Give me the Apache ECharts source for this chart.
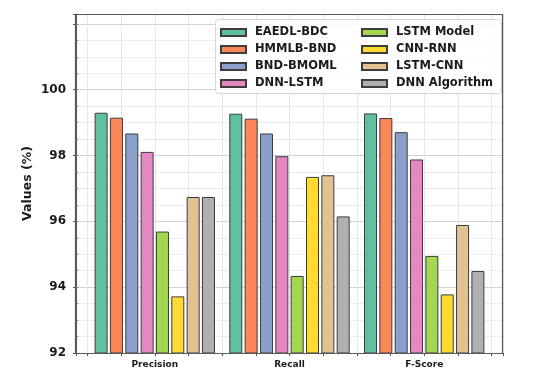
<!DOCTYPE html>
<html>
<head>
<meta charset="utf-8">
<script src="https://cdn.jsdelivr.net/npm/echarts@6/dist/echarts.min.js"></script>
<style>
  html, body { margin: 0; padding: 0; background: #fff; }
  #myChart { width: 546px; height: 383px; }
</style>
</head>
<body>
<div id="myChart"></div>
<script>
// data
const categories = ['Precision', 'Recall', 'F-Score'];
const methods = ['EAEDL-BDC', 'HMMLB-BND', 'BND-BMOML', 'DNN-LSTM', 'LSTM Model', 'CNN-RNN', 'LSTM-CNN', 'DNN Algorithm'];
const eaedlBdc = [99.30, 99.27, 99.28];
const hmmlbBnd = [99.15, 99.12, 99.14];
const bndBmoml = [98.67, 98.67, 98.71];
const dnnLstm = [98.11, 97.98, 97.88];
const lstmModel = [95.69, 94.34, 94.95];
const cnnRnn = [93.72, 97.35, 93.78];
const lstmCnn = [96.74, 97.40, 95.89];
const dnnAlgorithm = [96.74, 96.15, 94.49];
const yTicks = [92, 94, 96, 98, 100];

const seriesValues = [eaedlBdc, hmmlbBnd, bndBmoml, dnnLstm, lstmModel, cnnRnn, lstmCnn, dnnAlgorithm];
const colors = ['#5fc09f', '#fb8659', '#8a9fcc', '#e487c2', '#a4d651', '#fdd931', '#e2c192', '#b0b0b0'];
const font = 'DejaVu Sans';

const myChart = echarts.init(document.getElementById('myChart'));

// bars sit on a numeric x axis so the plot margins match the original
let series = methods.map((name, i) => ({
    name,
    type: 'bar',
    barWidth: 13,
    barGap: '18%',
    yAxisIndex: 1,
    data: seriesValues[i].map((v, j) => [j, v]),
    itemStyle: {color: colors[i], borderColor: '#3d3d3d', borderWidth: 1},
    emphasis: {disabled: true}
}));

const legendText = {fontSize: 11.5, fontWeight: 'bold', color: '#1a1a1a', fontFamily: font, padding: [0, 0, 0, 4]};
const legendBase = {
    orient: 'vertical', top: 26.5, padding: 0, itemWidth: 25, itemHeight: 7, itemGap: 5,
    icon: 'rect', textStyle: legendText, selectedMode: false
};

let option = {
    animation: false,
    textStyle: {fontFamily: font},
    grid: {left: 76, top: 14, width: 427, height: 339},
    legend: [
        {...legendBase, left: 220, data: methods.slice(0, 4)},
        {...legendBase, left: 361, data: methods.slice(4)}
    ],
    xAxis: {
        type: 'value',
        min: -0.585,
        max: 2.585,
        // ticks every quarter, aligned on the group centres
        minInterval: 0.25,
        maxInterval: 0.25,
        splitNumber: 12,
        axisLine: {show: true, onZero: false, lineStyle: {color: '#555', width: 1}},
        axisTick: {show: true, length: 3, lineStyle: {color: '#555'}},
        axisLabel: {
            margin: 7,
            fontSize: 9,
            fontWeight: 'bold',
            color: '#1a1a1a',
            showMinLabel: true,
            showMaxLabel: true,
            formatter: v => {
                let r = Math.round(v);
                return (Math.abs(v - r) < 1e-6 && r >= 0 && r < categories.length) ? categories[r] : '';
            }
        },
        splitLine: {show: true, lineStyle: {color: '#e6e6e6', width: 1}}
    },
    yAxis: [
        {
            // minor grid every 0.5
            type: 'value', min: 92, max: 102.3, interval: 0.5, position: 'left',
            axisLine: {show: false, onZero: false},
            axisTick: {show: true, inside: true, length: 2, lineStyle: {color: '#777'}},
            axisLabel: {show: false},
            splitLine: {show: true, lineStyle: {color: '#ececec', width: 1}}
        },
        {
            type: 'value', min: 92, max: 102.3, interval: 2, position: 'left',
            name: 'Values (%)',
            nameLocation: 'middle',
            nameGap: 42,
            nameMoveOverlap: false,
            nameTextStyle: {fontSize: 12.5, fontWeight: 'bold', color: '#1a1a1a'},
            axisLine: {show: true, onZero: false, lineStyle: {color: '#555', width: 1}},
            axisTick: {show: true, length: 3, lineStyle: {color: '#555'}},
            axisLabel: {
                margin: 10, fontSize: 12, fontWeight: 'bold', color: '#1a1a1a',
                formatter: v => yTicks.includes(v) ? String(v) : ''
            },
            splitLine: {show: true, lineStyle: {color: '#d2d2d2', width: 1}}
        }
    ],
    graphic: [
        {
            type: 'rect', z: 3,
            shape: {x: 215.5, y: 19.5, width: 286, height: 74, r: 3},
            style: {fill: 'rgba(255,255,255,0.85)', stroke: '#d6d6d6', lineWidth: 1}
        },
        {
            type: 'rect', z: 10, silent: true,
            shape: {x: 75.5, y: 14.5, width: 427, height: 339},
            style: {fill: null, stroke: '#5a5a5a', lineWidth: 1.2}
        }
    ],
    series
};

myChart.setOption(option);
</script>
</body>
</html>
